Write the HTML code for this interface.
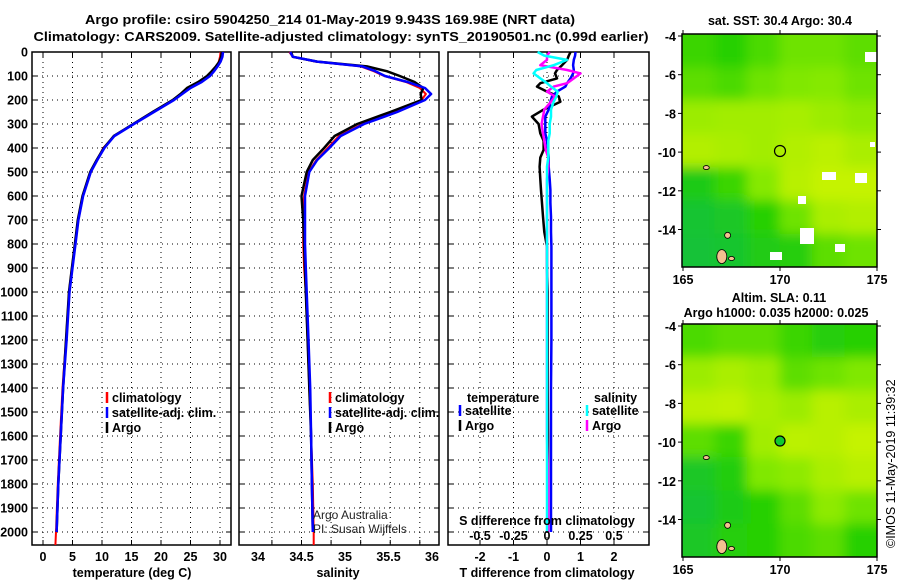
<!DOCTYPE html>
<html><head><meta charset="utf-8"><style>
body{margin:0;background:#fff;}
svg{display:block;font-family:"Liberation Sans",sans-serif;}
.b{font-weight:bold;font-size:12.5px;}
</style></head><body>
<svg id="c" width="900" height="580" viewBox="0 0 900 580">
<defs>
<filter id="bl" x="-5%" y="-5%" width="110%" height="110%"><feGaussianBlur stdDeviation="6"/></filter>
<clipPath id="cm1"><rect x="682" y="34" width="195" height="233"/></clipPath>
<clipPath id="cm2"><rect x="682" y="324" width="195" height="233"/></clipPath>
</defs>
<text x="330" y="24" text-anchor="middle" class="b" font-size="13.5" textLength="490" lengthAdjust="spacingAndGlyphs">Argo profile: csiro 5904250_214 01-May-2019 9.943S 169.98E (NRT data)</text>
<text x="341" y="41" text-anchor="middle" class="b" font-size="13.5" textLength="615" lengthAdjust="spacingAndGlyphs">Climatology: CARS2009. Satellite-adjusted climatology: synTS_20190501.nc (0.99d earlier)</text>
<g id="g"></g>
</svg>
<script>
// depths (m)
const depths=[0,20,40,60,80,100,125,150,175,200,250,300,350,400,450,500,600,700,800,900,1000,1200,1400,1600,1800,2000];
// temperature (deg C)
const tempArgo=[30.3,30.2,29.9,29.3,28.6,27.8,26.3,24.4,23.3,22.0,18.6,15.3,12.0,10.3,9.1,8.0,6.7,5.9,5.4,4.9,4.4,3.9,3.4,3.0,2.6,2.3];
const tempClim=[30.1,30.0,29.8,29.5,28.9,28.2,26.7,24.7,23.4,22.0,18.7,15.3,12.1,10.2,9.2,8.1,6.8,6.0,5.4,4.9,4.4,3.9,3.3,2.9,2.5,2.2];
const tempSat=[30.5,30.4,30.1,29.6,29.0,28.3,26.9,25.0,23.6,22.2,18.8,15.4,12.1,10.4,9.2,8.1,6.8,6.0,5.5,5.0,4.5,4.0,3.4,3.0,2.6,2.3];
// salinity (PSU)
const salArgo=[34.38,34.40,34.68,35.25,35.48,35.63,35.80,35.90,35.87,35.88,35.52,35.14,34.88,34.76,34.63,34.56,34.50,34.52,34.53,34.54,34.55,34.57,34.59,34.61,34.62,34.63];
const salClim=[34.36,34.40,34.66,35.18,35.33,35.45,35.70,35.86,35.93,35.88,35.57,35.20,34.93,34.80,34.67,34.58,34.53,34.52,34.52,34.53,34.55,34.57,34.59,34.61,34.63,34.64];
const salSat=[34.37,34.40,34.68,35.20,35.35,35.46,35.72,35.92,35.99,35.92,35.60,35.22,34.95,34.82,34.68,34.59,34.54,34.54,34.54,34.55,34.56,34.58,34.60,34.61,34.62,34.63];
// differences from climatology
const dDepths=[0,15,33,55,75,89,110,130,144,165,185,207,240,269,300,339,370,408,440,478,530,575,630,686,750,811,900,1000,1200,1400,1600,1800,2000];
const tDiffArgo=[0.7,0.65,0.6,0.45,0.3,0.24,0.3,-0.2,-0.3,0.0,0.35,0.4,-0.1,-0.45,-0.25,-0.2,-0.1,-0.1,-0.2,-0.22,-0.2,-0.18,-0.15,-0.12,-0.08,0.0,0.0,0.02,0.02,0.02,0.03,0.03,0.03];
const tDiffSat=[0.85,0.84,0.8,0.78,0.8,0.78,0.7,0.6,0.55,0.3,0.15,0.1,0.05,-0.05,-0.05,-0.05,0.0,0.03,0.05,0.05,0.08,0.1,0.1,0.12,0.12,0.13,0.13,0.13,0.13,0.12,0.12,0.12,0.12];
const sDiffArgo=[0.02,0.0,0.0,-0.05,0.15,0.25,0.2,0.15,0.05,0.0,0.06,0.03,-0.02,-0.03,-0.04,-0.03,-0.02,-0.01,0.01,0.01,0.0,0.0,0.0,0.0,0.0,0.0,0.0,0.0,0.0,0.0,0.0,0.01,0.01];
const sDiffSat=[-0.07,-0.02,0.15,0.05,-0.08,-0.1,-0.05,0.0,0.03,0.08,0.07,0.05,0.03,0.03,0.02,0.02,0.01,0.01,0.01,0.0,0.0,0.0,0.0,0.0,0.0,0.0,0.0,0.0,0.0,0.0,0.0,0.0,0.0];
// axis ticks
const depthTicks=[0,100,200,300,400,500,600,700,800,900,1000,1100,1200,1300,1400,1500,1600,1700,1800,1900,2000];
const tempTicks=[0,5,10,15,20,25,30];
const salTicks=[34,34.5,35,35.5,36];
const tdTicks=[-2,-1,0,1,2];
const sdTicks=[-0.5,-0.25,0,0.25,0.5];
const sdTickLabels=["-0.5","-0.25","0","0.25","0.5"];
const latTicks=[-4,-6,-8,-10,-12,-14];
const lonTicks=[165,170,175];
// maps: coarse field values (rows top->bottom)
const sstGrid=[[.4,.35,.45,.55,.55,.5],[.5,.45,.55,.6,.62,.55],[.7,.72,.72,.74,.7,.65],[.78,.75,.72,.78,.82,.75],[.22,.4,.62,.8,.88,.88],[.08,.15,.35,.55,.75,.78],[.05,.1,.25,.3,.5,.55]];
const slaGrid=[[.45,.5,.5,.4,.3,.35],[.7,.75,.7,.5,.55,.6],[.82,.85,.75,.7,.8,.75],[.5,.4,.72,.82,.8,.88],[.15,.28,.6,.65,.75,.8],[.08,.22,.35,.5,.65,.55],[.15,.3,.35,.45,.5,.35]];

const NS='http://www.w3.org/2000/svg';
const G=document.getElementById('g');
function mk(tag,at,parent){const e=document.createElementNS(NS,tag);for(const k in at)e.setAttribute(k,at[k]);(parent||G).appendChild(e);return e;}
function txt(x,y,s,at){const e=mk('text',Object.assign({x:x,y:y},at||{}));e.textContent=s;return e;}
const yD=d=>52+d*0.24;
const xT=t=>43+t*5.9;
const xS=s=>258+(s-34)*87;
const xTd=v=>547+v*33.5;
const xSd=v=>547+v*134;
const TOP=52,BOT=545;
const panels=[[32,231],[239,439],[448,649]];

panels.forEach((p,i)=>{
  const fr=mk('rect',{x:p[0],y:TOP,width:p[1]-p[0],height:BOT-TOP,fill:'none',stroke:'#000','stroke-width':1.5});
  
  
  depthTicks.forEach(d=>{
    if(d===0)return;
    const l=mk('line',{x1:p[0],x2:p[1],y1:yD(d),y2:yD(d),stroke:'#000','stroke-dasharray':'1 4','stroke-width':1});
    
    
    mk('line',{x1:p[0],x2:p[0]+5,y1:yD(d),y2:yD(d),stroke:'#000'});
    mk('line',{x1:p[1]-5,x2:p[1],y1:yD(d),y2:yD(d),stroke:'#000'});
  });
});
depthTicks.forEach(d=>{
  const t=txt(28,yD(d)+4.5,String(d),{'text-anchor':'end',class:'b'});
  
  
});
function vgrid(xs){xs.forEach(x=>{const l=mk('line',{x1:x,x2:x,y1:TOP,y2:BOT,stroke:'#000','stroke-dasharray':'1 4'});
  
  
  mk('line',{x1:x,x2:x,y1:TOP,y2:TOP+5,stroke:'#000'});mk('line',{x1:x,x2:x,y1:BOT-5,y2:BOT,stroke:'#000'});});}
vgrid(tempTicks.map(xT));
vgrid([34.16,34.5,34.84,35.18,35.52,35.86].map(xS));
vgrid(tdTicks.map(xTd));

function axisLabels(ticks,fx,labels){ticks.forEach((v,i)=>{const t=txt(fx(v),561,labels?labels[i]:String(v),{'text-anchor':'middle',class:'b'});
  
  });}
axisLabels(tempTicks,xT);axisLabels(salTicks,xS);axisLabels(tdTicks,xTd);
[['temperature (deg C)',132],['salinity',338],['T difference from climatology',547]].forEach(a=>{
  const t=txt(a[1],577,a[0],{'text-anchor':'middle',class:'b'});
  
  
});

function line(xs,ds,fx,color,w,name){
  const pts=xs.map((v,i)=>fx(v).toFixed(1)+','+yD(ds[i]).toFixed(1)).join(' ');
  const pl=mk('polyline',{points:pts,fill:'none',stroke:color,'stroke-width':w,'stroke-linejoin':'round'});
  
  
}
line(tempClim.concat([2.1]),depths.concat([2054]),xT,'#f00',2,'temp-climatology-line');
line(tempArgo,depths,xT,'#000',2.5,'temp-argo-line');
line(tempSat,depths,xT,'#00f',2.5,'temp-satellite-line');
line(salClim.concat([34.64]),depths.concat([2054]),xS,'#f00',2,'sal-climatology-line');
line(salArgo,depths,xS,'#000',2.5,'sal-argo-line');
line(salSat,depths,xS,'#00f',2.5,'sal-satellite-line');
line(tDiffArgo,dDepths,xTd,'#000',2.5,'tdiff-argo-line');
line(tDiffSat,dDepths,xTd,'#00f',2.5,'tdiff-satellite-line');
line(sDiffArgo,dDepths,xSd,'#f0f',2.5,'sdiff-argo-line');
line(sDiffSat,dDepths,xSd,'#0ff',2.5,'sdiff-satellite-line');

function legend(x,y,label,color,name){
  mk('line',{x1:x,x2:x,y1:y-10,y2:y+1,stroke:color,'stroke-width':2.5});
  const t=txt(x+5,y,label,{class:'b','font-size':'12'});
  
  
}
legend(107,402,'climatology','#f00','legend-climatology');
legend(107,417,'satellite-adj. clim.','#00f','legend-satellite-adj');
legend(107,432,'Argo','#000','legend-argo');
legend(330,402,'climatology','#f00','legend-climatology-sal');
legend(330,417,'satellite-adj. clim.','#00f','legend-satellite-adj-sal');
legend(330,432,'Argo','#000','legend-argo-sal');
txt(467,402,'temperature',{class:'b','font-size':'12'});
legend(460,415,'satellite','#00f','legend-t-satellite');
legend(460,430,'Argo','#000','legend-t-argo');
txt(594,402,'salinity',{class:'b','font-size':'12'});
legend(587,415,'satellite','#0ff','legend-s-satellite');
legend(587,430,'Argo','#f0f','legend-s-argo');

txt(313,519,'Argo Australia',{'font-size':'12',fill:'#222'});
txt(313,533,'PI: Susan Wijffels',{'font-size':'12',fill:'#222'});
txt(547,525,'S difference from climatology',{'text-anchor':'middle',class:'b'});
sdTicks.forEach((v,i)=>{const t=txt(xSd(v),540,sdTickLabels[i],{'text-anchor':'middle',class:'b'});
  
  });

// maps
function ramp(v){
  const stops=[[0,[16,192,64]],[0.35,[40,208,0]],[0.6,[128,232,0]],[0.8,[184,240,0]],[1,[216,248,0]]];
  for(let i=1;i<stops.length;i++){if(v<=stops[i][0]){const a=stops[i-1],b=stops[i];const f=(v-a[0])/(b[0]-a[0]);
    const c=a[1].map((q,k)=>Math.round(q+(b[1][k]-q)*f));return 'rgb('+c.join(',')+')';}}
  return 'rgb(216,248,0)';
}
function lx(l){return 683+(l-165)*19.4;}
function map(y0,grid,clip,name){
  const x0=682,w=195,h=233;
  const g=mk('g',{'clip-path':'url(#'+clip+')'});
  
  
  mk('rect',{x:x0,y:y0,width:w,height:h,fill:ramp(0.6)},g);
  const gb=mk('g',{filter:'url(#bl)'},g);
  const cw=w/grid[0].length,ch=h/grid.length;
  grid.forEach((row,r)=>row.forEach((v,c)=>{
    mk('rect',{x:x0+c*cw-(c===0?20:0),y:y0+r*ch-(r===0?20:0),width:cw+(c===0||c===row.length-1?20:0)+1,height:ch+(r===0||r===grid.length-1?20:0)+1,fill:ramp(v)},gb);
  }));
  [[167.0,-15.4,5,7],[167.5,-15.5,3,2],[166.2,-10.8,3,2],[167.3,-14.3,3,3]].forEach(p=>{
    mk('ellipse',{cx:lx(p[0]),cy:y0+2+(-4-p[1])*19.35,rx:p[2],ry:p[3],fill:'#f4c090',stroke:'#000','stroke-width':0.8},g);
  });
  mk('rect',{x:x0,y:y0,width:w,height:h,fill:'none',stroke:'#000','stroke-width':1.5});
  latTicks.forEach(l=>{const yy=y0+2+(-4-l)*19.35;
    mk('line',{x1:x0-4,x2:x0,y1:yy,y2:yy,stroke:'#000'});mk('line',{x1:x0+w,x2:x0+w+4,y1:yy,y2:yy,stroke:'#000'});
    const t=txt(x0-6,yy+5,String(l),{'text-anchor':'end',class:'b','font-size':'13'});
    
    });
  lonTicks.forEach(l=>{const xx=lx(l);
    mk('line',{x1:xx,x2:xx,y1:y0-4,y2:y0,stroke:'#000'});mk('line',{x1:xx,x2:xx,y1:y0+h,y2:y0+h+4,stroke:'#000'});
    const t=txt(xx,y0+h+17,String(l),{'text-anchor':'middle',class:'b','font-size':'13'});
    
    });
  return g;
}
const m1=map(34,sstGrid,'cm1','sst-map');
[[865,52,12,10],[800,228,14,16],[770,252,12,8],[835,244,10,8],[822,172,14,8],[855,173,12,10],[798,196,8,8],[870,142,5,5]].forEach(r=>mk('rect',{x:r[0],y:r[1],width:r[2],height:r[3],fill:'#fff'},m1));
mk('circle',{cx:lx(170),cy:151,r:5.5,fill:'none',stroke:'#000','stroke-width':1.2});
map(324,slaGrid,'cm2','sla-map');
mk('circle',{cx:lx(170),cy:441,r:5,fill:'#10c830',stroke:'#000','stroke-width':1.2});
txt(780,25,'sat. SST: 30.4 Argo: 30.4',{'text-anchor':'middle',class:'b','font-size':'12'});
txt(779,302,'Altim. SLA: 0.11',{'text-anchor':'middle',class:'b','font-size':'12'});
txt(776,317,'Argo h1000: 0.035 h2000: 0.025',{'text-anchor':'middle',class:'b','font-size':'12'});
const cr=txt(0,0,'\u00a9IMOS 11-May-2019 11:39:32',{'font-size':'12.5',transform:'translate(895,548) rotate(-90)'});


</script>
</body></html>
